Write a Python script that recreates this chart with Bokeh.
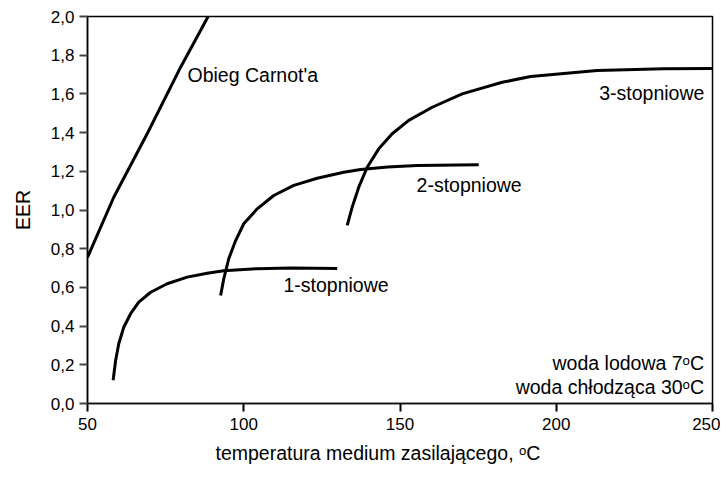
from bokeh.plotting import figure
from bokeh.models import ColumnDataSource, CustomJSTickFormatter, FixedTicker, Range1d, Title
from bokeh.core.properties import value
from bokeh.embed import file_html
from bokeh.resources import INLINE

FONT = "Liberation Sans"

# Data
carnot_x = [50, 58.4, 69.1, 79.8, 88.6]
carnot_y = [0.755, 1.066, 1.394, 1.738, 2.0]

s1_x = [58.2, 59.0, 60.0, 61.6, 63.8, 66.4, 70.2, 75.5, 81.9, 88.3, 93.6, 104.3, 115, 129.9]
s1_y = [0.12, 0.222, 0.309, 0.394, 0.464, 0.524, 0.575, 0.619, 0.653, 0.673, 0.686, 0.697, 0.700, 0.698]

s2_x = [92.6, 93.6, 95.2, 97.4, 100, 104.3, 109.6, 116.0, 123.5, 132.0, 137.4, 146, 155.5, 175.2]
s2_y = [0.558, 0.644, 0.748, 0.842, 0.929, 1.006, 1.075, 1.127, 1.164, 1.195, 1.209, 1.222, 1.23, 1.234]

s3_x = [133.1, 134.7, 136.8, 139.5, 143.2, 147.5, 152.8, 160.3, 169.9, 182.7, 191.8, 213.1, 234.4, 250]
s3_y = [0.92, 1.015, 1.118, 1.221, 1.316, 1.394, 1.463, 1.531, 1.60, 1.66, 1.69, 1.721, 1.73, 1.731]

x_ticks = [50, 100, 150, 200, 250]
y_ticks = [0.0, 0.2, 0.4, 0.6, 0.8, 1.0, 1.2, 1.4, 1.6, 1.8, 2.0]

x_label = "temperatura medium zasilającego, ᵒC"
y_label = "EER"

labels_left = ["Obieg Carnot'a", "1-stopniowe", "2-stopniowe"]
labels_left_x = [82, 112.7, 155.3]
labels_left_y = [1.70, 0.61, 1.127]

labels_right = ["3-stopniowe", "woda lodowa 7ᵒC", "woda chłodząca 30ᵒC"]
labels_right_x = [247.4, 247.3, 247.3]
labels_right_y = [1.605, 0.21, 0.085]

p = figure(width=720, height=480, output_backend="svg", toolbar_location=None,
           x_range=Range1d(50, 250), y_range=Range1d(0, 2.0),
           min_border_left=87, min_border_right=8, min_border_top=16, min_border_bottom=77)
p.grid.visible = False
p.outline_line_color = "black"
p.outline_line_width = 1.5
p.background_fill_color = "white"
p.border_fill_color = "white"

for ax in (p.xaxis[0], p.yaxis[0]):
    ax.axis_line_width = 1.5
    ax.major_tick_line_width = 2
    ax.major_tick_out = 8
    ax.major_tick_in = 0
    ax.minor_tick_line_color = None
    ax.major_label_text_font = FONT
    ax.major_label_text_font_size = "17px"
    ax.major_label_text_color = "black"
    ax.axis_label_text_font = FONT
    ax.axis_label_text_font_size = "19.5px"
    ax.axis_label_text_font_style = "normal"
    ax.axis_label_text_color = "black"
p.xaxis[0].axis_line_color = "#111111"
p.xaxis[0].major_tick_line_color = "black"
p.yaxis[0].axis_line_color = "black"
p.yaxis[0].major_tick_line_color = "#444444"

p.xaxis.ticker = FixedTicker(ticks=x_ticks)
p.yaxis.ticker = FixedTicker(ticks=y_ticks)
p.yaxis.formatter = CustomJSTickFormatter(code="return tick.toFixed(1).replace('.', ',');")
p.xaxis.major_label_standoff = 6
p.yaxis.major_label_standoff = 5
p.yaxis.axis_label = y_label
p.yaxis.axis_label_standoff = 14

xt = Title(text=x_label, align="left", offset=128, standoff=14,
           text_font=FONT, text_font_size="19.5px", text_font_style="normal", text_color="black")
p.add_layout(xt, "below")

for xs, ys in [(carnot_x, carnot_y), (s1_x, s1_y), (s2_x, s2_y), (s3_x, s3_y)]:
    p.line(xs, ys, line_color="black", line_width=3, line_join="round", line_cap="butt")

src_l = ColumnDataSource(dict(x=labels_left_x, y=labels_left_y, t=labels_left))
p.text(x="x", y="y", text="t", source=src_l, text_font=value(FONT), text_font_size="19.5px",
       text_align="left", text_baseline="middle", text_color="black")
src_r = ColumnDataSource(dict(x=labels_right_x, y=labels_right_y, t=labels_right))
p.text(x="x", y="y", text="t", source=src_r, text_font=value(FONT), text_font_size="19.5px",
       text_align="right", text_baseline="middle", text_color="black")

open("out.html", "w").write(file_html(p, INLINE))
